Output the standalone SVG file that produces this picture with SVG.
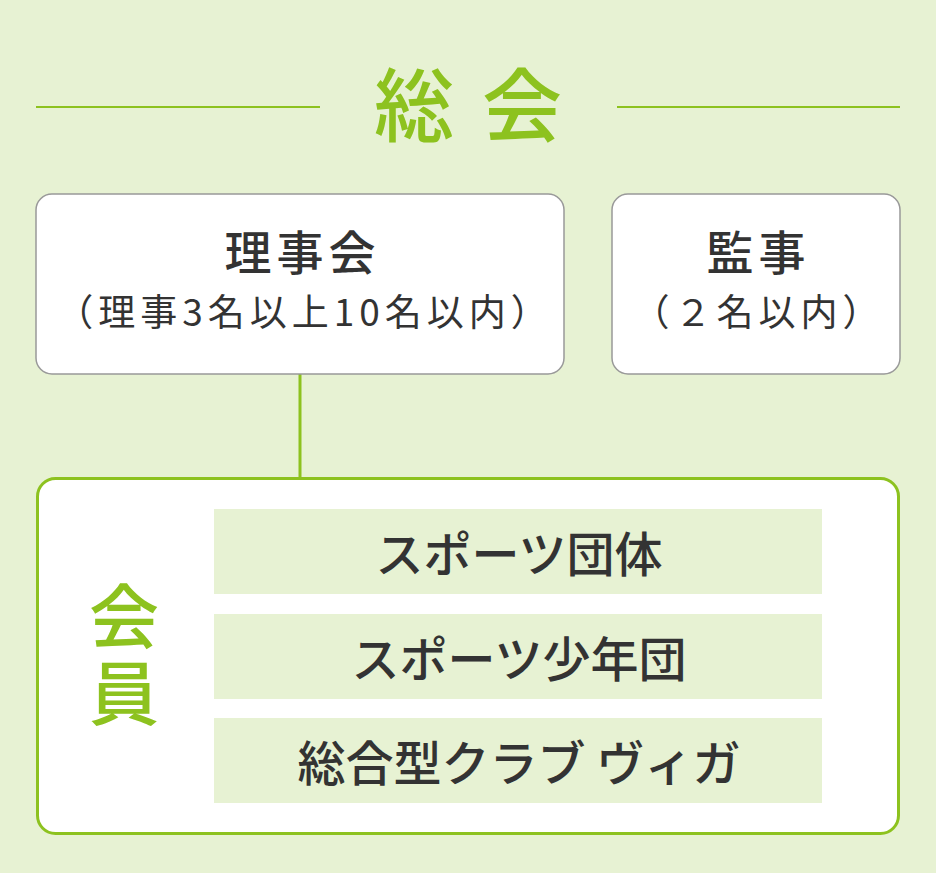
<svg xmlns="http://www.w3.org/2000/svg" width="936" height="873" viewBox="0 0 936 873">
<style>
.jp{font-family:"Noto Sans CJK JP","Noto Sans CJK SC",sans-serif;}
.green{fill:#8dc21f;}
.dark{fill:#333333;}
.box{fill:#ffffff;stroke:#999999;stroke-width:1.5;}
.row{fill:#e7f2d3;}
.ln{stroke:#8dc21f;stroke-width:2;fill:none;}
.rowt{font-size:48px;font-weight:500;}
.head{font-size:47px;font-weight:500;letter-spacing:5px;}
.sub{font-size:37px;letter-spacing:5px;}
</style>
<rect x="0" y="0" width="936" height="873" fill="#e7f2d3"/>
<g id="title">
<line class="ln" x1="36" y1="107" x2="320" y2="107"/>
<line class="ln" x1="617" y1="107" x2="900" y2="107"/>
<text class="jp green" x="414 522" y="135" font-size="80" font-weight="500" text-anchor="middle">総会</text>
</g>
<g id="connectors">
<line x1="300" y1="374" x2="300" y2="478" stroke="#8dc21f" stroke-width="3"/>
</g>
<g id="rijikai">
<rect class="box" x="36" y="194" width="528" height="180" rx="16"/>
<text class="jp dark head" x="302.5" y="270" text-anchor="middle">理事会</text>
<text class="jp dark sub" x="304.5" y="326" text-anchor="middle">（理事3名以上10名以内）</text>
</g>
<g id="kanji">
<rect class="box" x="612" y="194" width="288" height="180" rx="16"/>
<text class="jp dark head" x="758.5" y="270" text-anchor="middle">監事</text>
<text class="jp dark sub" x="758.5" y="326" text-anchor="middle">（２名以内）</text>
</g>
<g id="kaiin">
<rect x="37.5" y="478.5" width="861" height="355" rx="18" fill="#ffffff" stroke="#8dc21f" stroke-width="3"/>
<text class="jp green" x="124" y="581" font-size="70" font-weight="500" writing-mode="vertical-rl" letter-spacing="7">会員</text>
</g>
<g id="row1">
<rect class="row" x="214" y="509" width="608" height="85"/>
<text class="jp dark rowt" x="519" y="572" text-anchor="middle">スポーツ団体</text>
</g>
<g id="row2">
<rect class="row" x="214" y="614" width="608" height="85"/>
<text class="jp dark rowt" x="519" y="677" text-anchor="middle">スポーツ少年団</text>
</g>
<g id="row3">
<rect class="row" x="214" y="718" width="608" height="85"/>
<text class="jp dark rowt" x="519" y="781" text-anchor="middle">総合型クラブ ヴィガ</text>
</g>
</svg>
